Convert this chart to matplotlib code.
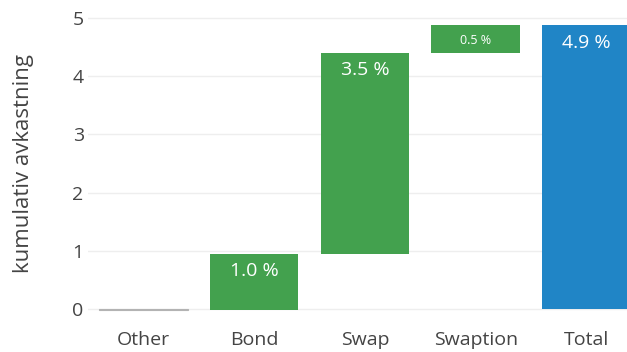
import matplotlib
matplotlib.use("Agg")
import matplotlib.pyplot as plt
import numpy as np

plt.rcParams['font.family'] = ['Open Sans', 'DejaVu Sans']

categories = ["Other", "Bond", "Swap", "Swaption", "Total"]
changes = [-0.02, 0.96, 3.46, 0.48, None]   # None = total bar
labels = ["", "1.0 %", "3.5 %", "0.5 %", "4.9 %"]
label_sizes = [14, 14, 14, 9, 14]
y_ticks = [0, 1, 2, 3, 4, 5]

green = "#43a14e"
blue = "#2085c6"
gray = "#b3b3b3"
text_color = "#444444"

W, H = 627, 352
fig = plt.figure(figsize=(W / 100, H / 100), dpi=100)
ymin, ymax = -0.1, 5.1
px_per_unit = (308.7 - 18.3) / 5
top_px = 18.3 - (ymax - 5) * px_per_unit
bot_px = 308.7 + (0 - ymin) * px_per_unit
left_px, right_px = 87.9, 87.9 + 5 * 110.8
ax = fig.add_axes([left_px / W, 1 - bot_px / H, (right_px - left_px) / W, (bot_px - top_px) / H])

x = np.arange(len(categories))
running = 0.0
for i, (cat, ch) in enumerate(zip(categories, changes)):
    if ch is None:
        bottom, height, color = 0.0, running, blue
    else:
        bottom, height = running, ch
        color = gray if ch < 0 else green
        running += ch
    if ch is not None and ch < 0:
        ax.bar(x[i], height, bottom=bottom, width=0.8, color=color, zorder=3,
               edgecolor=color, linewidth=0.8)
    else:
        ax.bar(x[i], height, bottom=bottom, width=0.8, color=color, zorder=3, linewidth=0)
    if labels[i]:
        top = bottom + height
        ax.annotate(labels[i], xy=(x[i], top), xytext=(0, -6), textcoords="offset points",
                    ha="center", va="top", color="white", fontsize=label_sizes[i], zorder=4)

ax.set_xlim(-0.5, 4.5)
ax.set_ylim(ymin, ymax)
ax.set_xticks(x)
ax.set_xticklabels(categories)
ax.set_yticks(y_ticks)
ax.set_yticklabels([str(t) for t in y_ticks])
ax.tick_params(axis="x", length=0, pad=12, labelsize=14, labelcolor=text_color)
ax.tick_params(axis="y", length=0, pad=3, labelsize=14, labelcolor=text_color)
ax.grid(axis="y", color="#eeeeee", linewidth=1, zorder=0)
ax.set_axisbelow(True)
for s in ax.spines.values():
    s.set_visible(False)
ax.set_ylabel("kumulativ avkastning", fontsize=16, color=text_color)
ax.yaxis.set_label_coords(-(left_px - 34) / (right_px - left_px), 0.5)

fig.savefig("out.png", dpi=100)
